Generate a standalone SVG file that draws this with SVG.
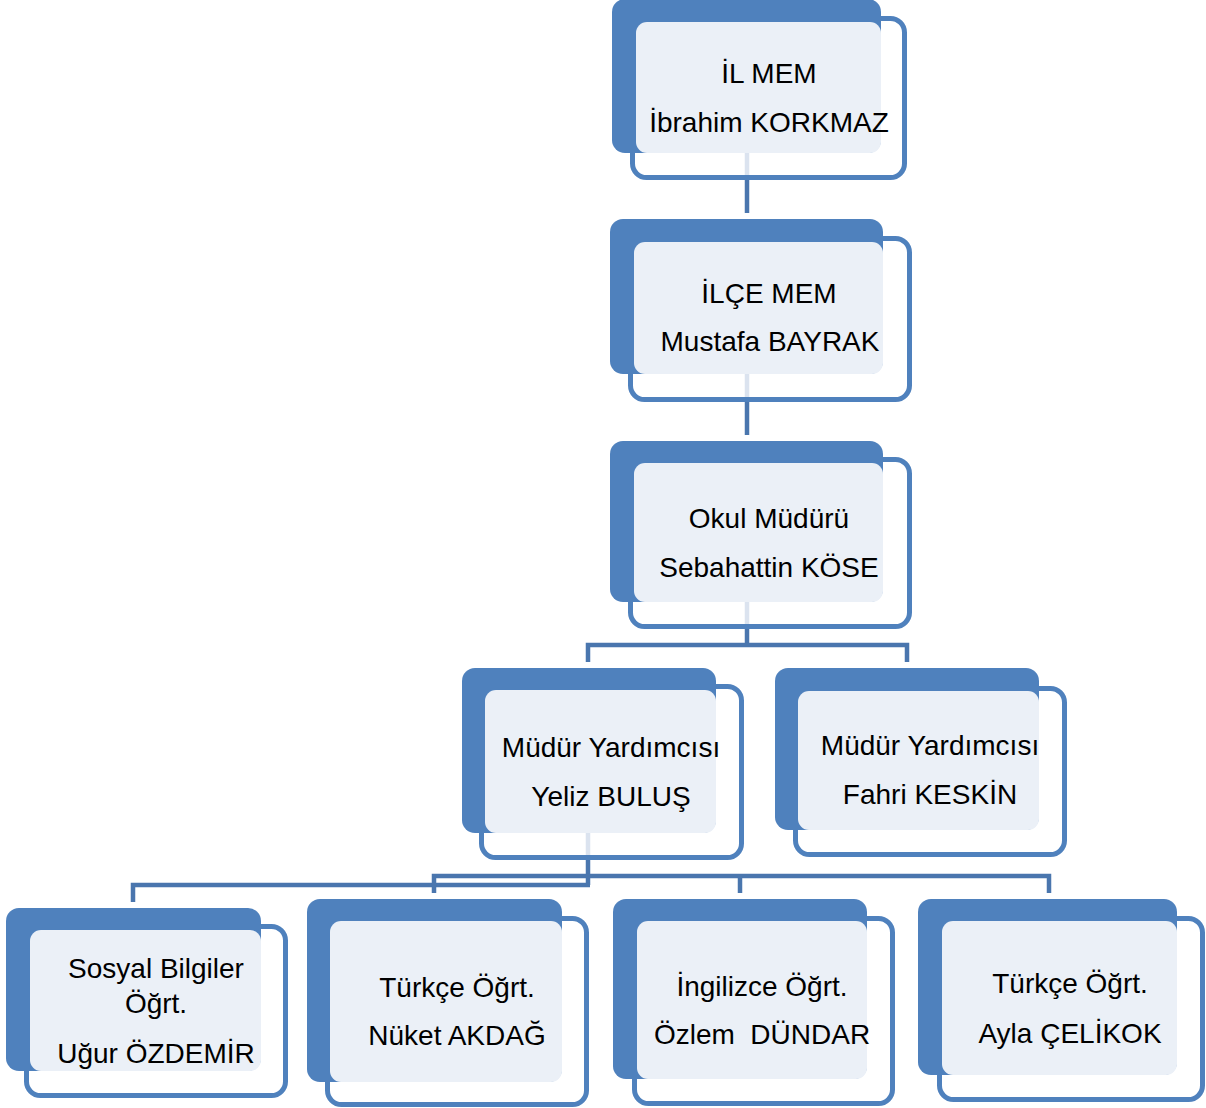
<svg xmlns="http://www.w3.org/2000/svg" width="1206" height="1108" viewBox="0 0 1206 1108">
<style>
.back{fill:#4F81BD}
.frame{fill:#FFFFFF;fill-opacity:0.8;stroke:#4F81BD;stroke-width:5}
.face{fill:#EBF0F7}
.conn{fill:none;stroke:#4A76AE;stroke-width:4.5;stroke-linejoin:miter;stroke-linecap:butt}
text{font-family:"Liberation Sans",Arial,sans-serif;font-size:28px;fill:#000;text-anchor:middle}
</style>
<rect width="1206" height="1108" fill="#FFFFFF"/>
<g id="connectors">
<path class="conn" d="M747,150 V213"/>
<path class="conn" d="M747,372 V435"/>
<path class="conn" d="M747,600 V645"/>
<path class="conn" d="M588,662 V645 H907 V662"/>
<path class="conn" d="M588,830 V885"/>
<path class="conn" d="M133,902 V885 H590"/>
<path class="conn" d="M434,893 V876 H1049 V893"/>
<path class="conn" d="M740,876 V893"/>
</g>
<g id="node-il-mem">
<rect class="frame" x="632.5" y="18.5" width="272" height="159" rx="14"/>
<rect class="back" x="612" y="-1" width="269" height="154" rx="13"/>
<rect class="face" x="636" y="22" width="245" height="131" rx="11"/>
<text x="769" y="83">İL MEM</text>
<text x="769" y="132">İbrahim KORKMAZ</text>
</g>
<g id="node-ilce-mem">
<rect class="frame" x="630.5" y="238.5" width="279" height="161" rx="14"/>
<rect class="back" x="610" y="219" width="273" height="155" rx="13"/>
<rect class="face" x="634" y="242" width="249" height="132" rx="11"/>
<text x="769" y="303">İLÇE MEM</text>
<text x="770" y="351">Mustafa BAYRAK</text>
</g>
<g id="node-okul-muduru">
<rect class="frame" x="630.5" y="459.5" width="279" height="167" rx="14"/>
<rect class="back" x="610" y="441" width="273" height="161" rx="13"/>
<rect class="face" x="634" y="463" width="249" height="139" rx="11"/>
<text x="769" y="528">Okul Müdürü</text>
<text x="769" y="577">Sebahattin KÖSE</text>
</g>
<g id="node-yeliz">
<rect class="frame" x="481.5" y="686.5" width="260" height="171" rx="14"/>
<rect class="back" x="462" y="668" width="254" height="165" rx="13"/>
<rect class="face" x="485" y="690" width="231" height="143" rx="11"/>
<text x="611" y="757">Müdür Yardımcısı</text>
<text x="611" y="806">Yeliz BULUŞ</text>
</g>
<g id="node-fahri">
<rect class="frame" x="795.5" y="688.5" width="269" height="166" rx="14"/>
<rect class="back" x="775" y="668" width="264" height="162" rx="13"/>
<rect class="face" x="798" y="691" width="241" height="139" rx="11"/>
<text x="930" y="755">Müdür Yardımcısı</text>
<text x="930" y="804">Fahri KESKİN</text>
</g>
<g id="node-ugur">
<rect class="frame" x="26.5" y="926.5" width="259" height="169" rx="14"/>
<rect class="back" x="6" y="908" width="255" height="163" rx="13"/>
<rect class="face" x="30" y="930" width="231" height="141" rx="11"/>
<text x="156" y="978">Sosyal Bilgiler</text>
<text x="156" y="1013">Öğrt.</text>
<text x="156" y="1063">Uğur ÖZDEMİR</text>
</g>
<g id="node-nuket">
<rect class="frame" x="327.5" y="918.5" width="259" height="186" rx="14"/>
<rect class="back" x="307" y="899" width="255" height="183" rx="13"/>
<rect class="face" x="330" y="921" width="232" height="161" rx="11"/>
<text x="457" y="997">Türkçe Öğrt.</text>
<text x="457" y="1045">Nüket AKDAĞ</text>
</g>
<g id="node-ozlem">
<rect class="frame" x="634.5" y="918.5" width="258" height="185" rx="14"/>
<rect class="back" x="613" y="899" width="254" height="180" rx="13"/>
<rect class="face" x="637" y="921" width="230" height="158" rx="11"/>
<text x="762" y="996">İngilizce Öğrt.</text>
<text x="762" y="1044" xml:space="preserve">Özlem  DÜNDAR</text>
</g>
<g id="node-ayla">
<rect class="frame" x="939.5" y="918.5" width="263" height="181" rx="14"/>
<rect class="back" x="918" y="899" width="259" height="176" rx="13"/>
<rect class="face" x="942" y="921" width="235" height="154" rx="11"/>
<text x="1070" y="993">Türkçe Öğrt.</text>
<text x="1070" y="1043">Ayla ÇELİKOK</text>
</g>
</svg>
